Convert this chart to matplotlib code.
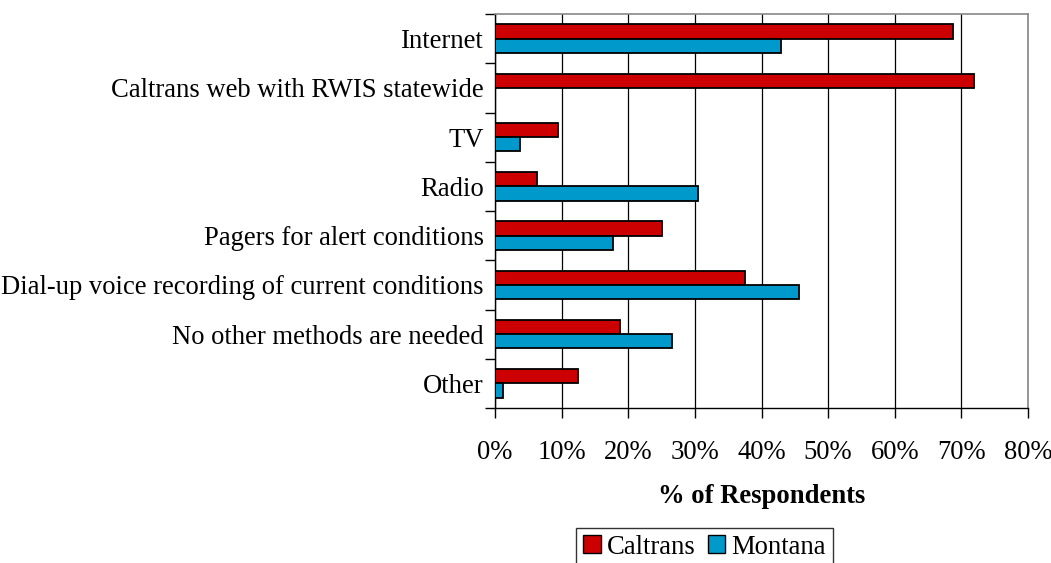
import numpy as np
import matplotlib.pyplot as plt
from matplotlib.patches import Patch

plt.rcParams['font.family'] = ['Liberation Serif', 'DejaVu Serif']

categories = ["Internet", "Caltrans web with RWIS statewide", "TV", "Radio",
              "Pagers for alert conditions",
              "Dial-up voice recording of current conditions",
              "No other methods are needed", "Other"]
caltrans = [68.8, 71.9, 9.4, 6.3, 25.0, 37.5, 18.8, 12.5]
montana = [43.0, 0.0, 3.8, 30.4, 17.7, 45.6, 26.6, 1.2]
xticks = [0, 10, 20, 30, 40, 50, 60, 70, 80]

red = '#CC0000'
blue = '#0099CC'
fs = 19.2

fig = plt.figure(figsize=(10.51, 5.63), dpi=100)
ax = fig.add_axes([495 / 1051, 1 - 408 / 563, (1028 - 495) / 1051, (408 - 14) / 563])

y = np.arange(len(categories))
h = 0.29
ax.barh(y - h / 2, caltrans, height=h, color=red, edgecolor='black', linewidth=1.3, zorder=3)
ax.barh(y + h / 2, montana, height=h, color=blue, edgecolor='black', linewidth=1.3, zorder=3)

ax.set_xlim(0, 80)
ax.set_ylim(len(categories) - 0.5, -0.5)

ax.set_xticks(xticks)
ax.set_xticklabels([f"{v}%" for v in xticks], fontsize=fs)
ax.tick_params(axis='x', direction='out', length=7, width=1, pad=16)

ax.set_yticks(np.arange(-0.5, len(categories), 1.0))
ax.set_yticklabels([])
ax.set_yticks(y, minor=True)
ax.set_yticklabels(categories, minor=True, fontsize=fs)
ax.tick_params(axis='y', which='major', direction='out', length=7, width=1)
ax.tick_params(axis='y', which='minor', length=0, pad=8)

ax.grid(axis='x', color='black', linewidth=0.9, zorder=0)
ax.set_axisbelow(True)
for s in ['top', 'right']:
    ax.spines[s].set_color('#888888')
    ax.spines[s].set_linewidth(1.2)
for s in ['left', 'bottom']:
    ax.spines[s].set_color('black')
    ax.spines[s].set_linewidth(1.0)

ax.set_xlabel("% of Respondents", fontsize=fs, fontweight='bold', labelpad=14)

handles = [Patch(facecolor=red, edgecolor='black', linewidth=1.0),
           Patch(facecolor=blue, edgecolor='black', linewidth=1.0)]
leg = fig.legend(handles, ["Caltrans", "Montana"], loc='upper center',
                 bbox_to_anchor=(704.5 / 1051, 1 - 528 / 563), ncol=2, fontsize=fs,
                 frameon=True, fancybox=False, edgecolor='#333333', framealpha=1,
                 handlelength=0.67, handleheight=0.65, handletextpad=0.22,
                 columnspacing=0.45, borderpad=0.25, borderaxespad=0)
leg.get_frame().set_linewidth(1.0)

fig.savefig('out.png', dpi=100)
